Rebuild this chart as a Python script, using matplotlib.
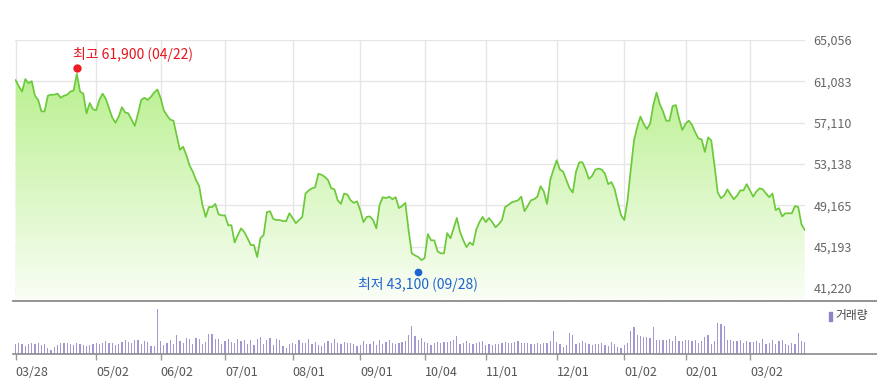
import matplotlib
matplotlib.use('Agg')
import matplotlib.pyplot as plt
import matplotlib.transforms as mtransforms
from matplotlib.patches import Polygon, Rectangle
from matplotlib.lines import Line2D
import numpy as np

plt.rcParams['font.family'] = ['Noto Sans CJK KR', 'DejaVu Sans']

# daily close (won), 03/28 .. 03/19
close = [61200, 60600, 60100, 61300, 60900, 61100, 59700, 59300, 58200, 58200,
         59700, 59800, 59800, 59900, 59500, 59700, 59800, 60100, 60200, 61800,
         60100, 59900, 58000, 59000, 58400, 58300, 59300, 59900, 59400, 58500,
         57600, 57100, 57700, 58600, 58100, 58000, 57400, 56800, 58000, 59300,
         59500, 59300, 59600, 60000, 60300, 59500, 58300, 57800, 57400, 57300,
         55900, 54500, 54800, 54000, 53000, 52400, 51600, 51000, 49200, 48050,
         49000, 49000, 49300, 48300, 48200, 48200, 47250, 47250, 45600, 46300,
         46950, 46600, 46000, 45350, 45350, 44200, 46000, 46300, 48500, 48600,
         47850, 47750, 47750, 47650, 47650, 48400, 47950, 47450, 47750, 48050,
         50300, 50600, 50800, 50900, 52200, 52100, 51900, 51600, 50800, 50700,
         49650, 49300, 50300, 50200, 49650, 49400, 49550, 48700, 47550, 48050,
         48100, 47750, 46950, 49200, 49950, 49850, 50000, 49750, 49950, 48900,
         49100, 49400, 46800, 44550, 44350, 44200, 43900, 44100, 46400, 45800,
         45800, 44750, 44550, 44550, 46500, 46000, 46950, 47950, 46600, 45800,
         45150, 45600, 45350, 46800, 47550, 48050, 47550, 47950, 47550, 47050,
         47350, 47750, 49000, 49200, 49450, 49550, 49650, 50000, 48600, 49100,
         49650, 49750, 50000, 51000, 50500, 49300, 51600, 52600, 53500, 52600,
         52400, 51600, 50800, 50400, 52400, 53300, 53300, 52600, 51700, 52000,
         52600, 52700, 52600, 52200, 51200, 51400, 50700, 49400, 48200, 47750,
         49650, 52600, 55400, 56700, 57700, 57000, 56500, 57000, 58800, 60000,
         58900, 58200, 57300, 57300, 58700, 58800, 57500, 56400, 57000, 57300,
         56900, 56200, 55600, 55500, 54300, 55700, 55400, 53000, 50400, 49850,
         50100, 50700, 50200, 49750, 50100, 50600, 50600, 51200, 50600, 50000,
         50500, 50800, 50700, 50300, 49950, 50300, 48700, 48900, 48100, 48400,
         48400, 48400, 49100, 49000, 47350, 46800]

# volume (10k shares)
volume = [9, 10, 9, 7, 9, 10, 9, 10, 8, 9, 5, 3, 6, 8, 10, 10, 10, 9, 8, 10,
          9, 8, 7, 8, 9,
          10, 9, 10, 12, 10, 10, 8, 9, 11, 13, 11, 10, 13, 13, 9, 12, 11, 7, 7,
          44,
          12, 8, 10, 13, 9, 18, 12, 10, 15, 14, 9, 15, 14, 9, 11, 19, 19, 14, 14, 9,
          12, 14, 11, 10, 14, 12, 13, 9, 13, 8, 14, 16, 9, 13, 15, 8, 14, 13, 7, 5, 9,
          10, 9, 13, 10, 10, 14, 9, 11, 8, 7, 10, 12, 10, 14, 10, 9, 11, 10, 10, 9, 7,
          8, 12, 9, 9, 12, 8, 13, 9, 11, 13, 10, 9, 10, 11, 12, 18, 27, 17, 13, 15, 11,
          10, 8, 10, 11, 10, 11, 11, 12, 13, 17, 9, 10, 12, 10, 9, 10, 11, 12, 8, 9,
          8, 9, 9, 10, 11, 10, 10, 11, 12, 10, 10, 10, 9, 9, 10, 9, 10, 10, 12,
          22, 11, 9, 6, 8, 20, 18, 9, 10, 12, 10, 9, 8, 9, 9, 10, 8, 7, 11, 9, 6,
          5, 8, 10, 22, 26, 18, 17, 16, 16, 15, 26, 13, 13,
          13, 13, 14, 12, 17, 12, 12, 13, 13, 12, 13, 10, 12, 16, 18, 9, 12,
          30, 29, 27, 13, 13, 12, 12, 13, 10, 12, 11, 11, 12, 10, 14, 9, 10, 13, 9,
          12, 13, 9, 8, 10, 9, 20, 12, 11]

tick_idx = [0, 25, 45, 65, 86, 107, 127, 146, 168, 189, 208, 228]
tick_lab = ['03/28', '05/02', '06/02', '07/01', '08/01', '09/01', '10/04',
            '11/01', '12/01', '01/02', '02/01', '03/02']
y_ticks = [41220, 45193, 49165, 53138, 57110, 61083, 65056]

hi_idx, hi_val, hi_txt = 19, 61900, '최고 61,900 (04/22)'
lo_idx, lo_val, lo_txt = 125, 43100, '최저 43,100 (09/28)'

W, H = 878, 386
fig = plt.figure(figsize=(W / 100, H / 100), dpi=100)


def box(l, t, r, b):
    return [l / W, 1 - b / H, (r - l) / W, (b - t) / H]


ax = fig.add_axes(box(15, 40, 805, 300))
axv = fig.add_axes(box(15, 309, 805, 353.5))

x = np.arange(len(close))
xlim = (-0.2, 245.1)
ylim = (40066, 65056)

# gradient fill under the line
grad = np.linspace(0, 1, 256).reshape(-1, 1)
top = np.array([176, 238, 128]) / 255
bot = np.array([250, 254, 246]) / 255
img = bot + (top - bot) * grad[..., None]
im = ax.imshow(img, extent=[xlim[0], xlim[1], ylim[0], ylim[1]],
               aspect='auto', origin='lower', zorder=1)
verts = [(x[0], ylim[0])] + list(zip(x, close)) + [(x[-1], ylim[0])]
poly = Polygon(verts, closed=True, facecolor='none', edgecolor='none')
ax.add_patch(poly)
im.set_clip_path(poly)

ax.plot(x, close, color='#6cc93a', lw=1.25, zorder=3)

# high / low markers
up = mtransforms.offset_copy(ax.transData, fig=fig, x=0, y=4.5, units='dots')
dn = mtransforms.offset_copy(ax.transData, fig=fig, x=0, y=-3.5, units='dots')
ax.plot(hi_idx, hi_val, 'o', color='#ee1c25', ms=6, mec='none',
        transform=up, zorder=5, clip_on=False)
ax.plot(lo_idx, lo_val, 'o', color='#1f63d2', ms=5.5, mec='none',
        transform=dn, zorder=5, clip_on=False)
hi_t = mtransforms.offset_copy(ax.transData, fig=fig, x=-4, y=18.5, units='dots')
lo_t = mtransforms.offset_copy(ax.transData, fig=fig, x=0, y=-16, units='dots')
ax.text(hi_idx, hi_val, hi_txt, color='#e8141c', fontsize=10,
        ha='left', va='center', transform=hi_t)
ax.text(lo_idx, lo_val, lo_txt, color='#1f63d2', fontsize=10,
        ha='center', va='center', transform=lo_t)

ax.set_xlim(*xlim)
ax.set_ylim(*ylim)
ax.set_xticks(tick_idx)
ax.set_xticklabels([])
ax.set_yticks(y_ticks)
ax.set_yticklabels([f'{v:,}' for v in y_ticks])
ax.yaxis.tick_right()
ax.tick_params(axis='y', length=0, pad=6, labelsize=9, labelcolor='#666666')
ax.tick_params(axis='x', length=0)
ax.grid(color='#e6e6e6', lw=1, zorder=0)
ax.set_axisbelow(True)
for s in ax.spines.values():
    s.set_visible(False)

# volume
axv.bar(x, volume, width=0.38, color='#a497cf', lw=0)
axv.set_xlim(*xlim)
axv.set_ylim(0, max(volume) * 1.01)
axv.set_xticks(tick_idx)
axv.set_xticklabels(tick_lab, ha='left')
axv.tick_params(axis='x', length=4, width=1, color='#999999', pad=5,
                labelsize=9, labelcolor='#555555', direction='out')
axv.set_yticks([])
for s in axv.spines.values():
    s.set_visible(False)

# separator lines
fig.add_artist(Line2D([13 / W, 1], [1 - 300.5 / H] * 2, color='#8a8a8a', lw=1.3))
fig.add_artist(Line2D([13 / W, 1], [1 - 353.5 / H] * 2, color='#8a8a8a', lw=1.2))

# volume legend
fig.add_artist(Rectangle((829 / W, 1 - 321 / H), 3 / W, 9 / H,
                         color='#9183c4', transform=fig.transFigure))
fig.text(835 / W, 1 - 316 / H, '거래량', fontsize=8.5, color='#444444',
         ha='left', va='center')

fig.savefig('out.png', dpi=100)
